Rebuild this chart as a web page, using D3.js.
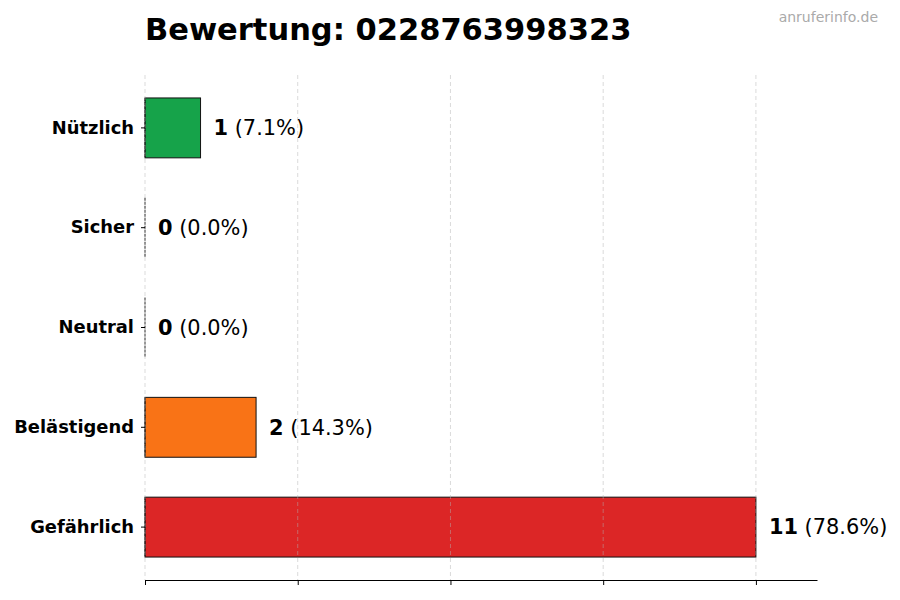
<!DOCTYPE html>
<html lang="de">
  <head>
    <meta charset="UTF-8" />
    <title>Bewertung</title>
    <script src="https://d3js.org/d3.v7.min.js"></script>
    <style>
      * {
        margin: 0;
        padding: 0;
      }
      body {
        background: #fff;
      }
      text {
        font-family: "DejaVu Sans", sans-serif;
      }
    </style>
  </head>

  <body></body>

  <script>
    const w = 900;
    const h = 600;

    // Daten
    const categories = ["Nützlich", "Sicher", "Neutral", "Belästigend", "Gefährlich"];
    const counts = [1, 0, 0, 2, 11];
    const percents = ["7.1%", "0.0%", "0.0%", "14.3%", "78.6%"];
    const colors = ["#16a34a", "#9ca3af", "#6b7280", "#f97316", "#dc2626"];
    const xTicks = [0, 2.75, 5.5, 8.25, 11];

    const mLeft = 145,
      mRight = 817,
      mTop = 75,
      mBottom = 580;

    const svg = d3
      .select("body")
      .append("svg")
      .attr("width", w)
      .attr("height", h);

    const maxVal = d3.max(counts);
    const x = d3.scaleLinear().domain([0, maxVal * 1.1]).range([mLeft, mRight]);
    const y = d3
      .scaleBand()
      .domain(categories)
      .range([mTop, mBottom])
      .paddingInner(0.4)
      .paddingOuter(0.23);

    // Balken
    svg
      .append("g")
      .selectAll("rect")
      .data(categories)
      .enter()
      .append("rect")
      .attr("x", x(0))
      .attr("y", (d) => y(d))
      .attr("width", (d, i) => x(counts[i]) - x(0))
      .attr("height", y.bandwidth())
      .attr("fill", (d, i) => colors[i])
      .attr("stroke", "#111")
      .attr("stroke-width", 1);

    // linke Kante (auch bei 0)
    svg
      .append("g")
      .selectAll("line")
      .data(categories)
      .enter()
      .append("line")
      .attr("x1", x(0))
      .attr("x2", x(0))
      .attr("y1", (d) => y(d))
      .attr("y2", (d) => y(d) + y.bandwidth())
      .attr("stroke", "#222")
      .attr("stroke-width", 1)
      .attr("stroke-dasharray", "3,1");

    // Gitterlinien
    svg
      .append("g")
      .selectAll("line")
      .data(xTicks)
      .enter()
      .append("line")
      .attr("x1", (d) => x(d))
      .attr("x2", (d) => x(d))
      .attr("y1", mTop)
      .attr("y2", mBottom)
      .attr("stroke", "#b0b0b0")
      .attr("stroke-opacity", 0.6)
      .attr("stroke-dasharray", "4,3")
      .attr("stroke-width", 0.8);

    // x-Achse ohne Beschriftung
    svg
      .append("g")
      .attr("transform", "translate(0," + mBottom + ")")
      .call(d3.axisBottom(x).tickValues(xTicks).tickFormat("").tickSize(5).tickSizeOuter(0))
      .call((g) => g.select(".domain").attr("stroke", "#000"));

    // y-Achse
    const yAxis = svg
      .append("g")
      .attr("transform", "translate(" + mLeft + ",0)")
      .call(d3.axisLeft(y).tickSize(4).tickPadding(7));
    yAxis.select(".domain").remove();
    yAxis
      .selectAll("text")
      .style("font-family", "DejaVu Sans")
      .style("font-size", "17.9px")
      .style("font-weight", "bold")
      .attr("fill", "#000");

    // Werte
    const labels = svg
      .append("g")
      .selectAll("text")
      .data(categories)
      .enter()
      .append("text")
      .attr("x", (d, i) => x(counts[i]) + 13)
      .attr("y", (d) => y(d) + y.bandwidth() / 2)
      .attr("dy", "0.35em")
      .style("font-size", "20.9px");
    labels
      .append("tspan")
      .style("font-weight", "bold")
      .text((d, i) => counts[i]);
    labels
      .append("tspan")
      .text((d, i) => " (" + percents[i] + ")");

    // Titel
    svg
      .append("text")
      .attr("x", mLeft)
      .attr("y", 40)
      .style("font-size", "30.5px")
      .style("font-weight", "bold")
      .text("Bewertung: 0228763998323");

    svg
      .append("text")
      .attr("x", 878)
      .attr("y", 22)
      .attr("text-anchor", "end")
      .attr("fill", "#aaaaaa")
      .style("font-size", "14px")
      .text("anruferinfo.de");
  </script>
</html>
